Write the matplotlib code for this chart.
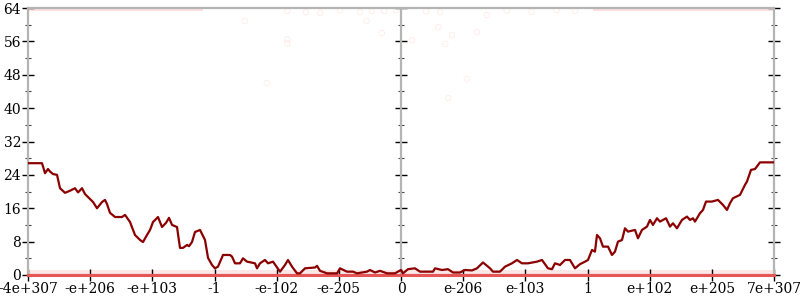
import matplotlib; matplotlib.use("Agg")
import matplotlib.pyplot as plt
from matplotlib.ticker import MultipleLocator

# x is in tick units: -6 .. 6, each unit one labelled tick
tick_pos = [-6, -5, -4, -3, -2, -1, 0, 1, 2, 3, 4, 5, 6]
tick_labels = ["-4e+307", "-e+206", "-e+103", "-1", "-e-102", "-e-205", "0",
               "e-206", "e-103", "1", "e+102", "e+205", "7e+307"]

line_x = [-6.00, -5.775, -5.726, -5.678, -5.646, -5.598, -5.533, -5.485, -5.405, -5.324,
          -5.244, -5.195, -5.131, -5.083, -5.035, -4.954, -4.890, -4.809, -4.761, -4.729,
          -4.681, -4.600, -4.488, -4.439, -4.359, -4.279, -4.198, -4.150, -4.086, -4.037,
          -3.989, -3.909, -3.844, -3.780, -3.732, -3.683, -3.603, -3.555, -3.507, -3.442,
          -3.410, -3.362, -3.314, -3.233, -3.153, -3.104, -3.040, -2.992, -2.944, -2.863,
          -2.751, -2.718, -2.670, -2.590, -2.541, -2.477, -2.348, -2.316, -2.268, -2.188,
          -2.139, -2.059, -1.946, -1.866, -1.818, -1.753, -1.673, -1.625, -1.544, -1.383,
          -1.351, -1.303, -1.190, -1.029, -0.981, -0.869, -0.772, -0.708, -0.547, -0.499,
          -0.418, -0.338, -0.225, -0.097, 0.0,
          0.032, 0.113, 0.225, 0.306, 0.515, 0.547, 0.660, 0.756, 0.836, 0.949,
          1.029, 1.142, 1.222, 1.319, 1.432, 1.480, 1.592, 1.673, 1.785, 1.866,
          1.946, 2.043, 2.188, 2.268, 2.364, 2.429, 2.477, 2.558, 2.638, 2.718,
          2.799, 2.879, 2.960, 3.008, 3.072, 3.120, 3.153, 3.201, 3.249, 3.330,
          3.394, 3.442, 3.490, 3.555, 3.603, 3.651, 3.764, 3.812, 3.876, 3.957,
          4.005, 4.053, 4.118, 4.166, 4.263, 4.327, 4.375, 4.439, 4.520, 4.600,
          4.649, 4.697, 4.729, 4.809, 4.858, 4.906, 5.002, 5.099, 5.179, 5.244,
          5.292, 5.340, 5.453, 5.533, 5.565, 5.630, 5.694, 5.775, 6.00]
line_y = [26.8, 26.8, 24.4, 25.4, 24.8, 24.2, 24.0, 20.8, 19.7, 20.2,
          20.8, 19.8, 20.8, 19.4, 18.7, 17.5, 16.0, 17.5, 18.0, 17.0,
          14.9, 13.9, 13.9, 14.4, 12.7, 9.6, 8.4, 7.9, 9.6, 10.8,
          12.7, 13.9, 11.5, 12.5, 13.7, 12.0, 11.5, 6.5, 6.5, 7.2,
          6.9, 7.9, 10.3, 10.8, 8.4, 4.1, 2.4, 1.6, 2.0, 4.8,
          4.8, 4.4, 2.8, 2.8, 4.0, 3.2, 2.8, 1.6, 2.8, 3.6,
          2.8, 3.2, 0.8, 2.4, 3.6, 2.0, 0.4, 0.4, 1.6, 1.8,
          2.2, 1.0, 0.4, 0.4, 1.6, 0.8, 0.8, 0.4, 0.8, 1.2,
          0.6, 1.0, 0.4, 0.4, 1.2,
          0.4, 1.4, 1.6, 0.8, 0.8, 1.6, 1.2, 1.4, 0.6, 0.6,
          1.2, 1.1, 1.6, 3.0, 1.6, 0.8, 0.8, 2.0, 2.8, 3.6,
          2.8, 2.8, 3.2, 3.6, 1.6, 1.4, 2.8, 2.4, 3.6, 3.6,
          1.6, 2.6, 3.2, 3.6, 6.0, 5.6, 9.6, 8.8, 6.8, 6.8,
          4.8, 5.6, 8.0, 8.4, 11.2, 10.4, 10.8, 8.8, 10.8, 11.6,
          13.2, 12.0, 13.6, 12.8, 13.6, 11.6, 12.4, 11.2, 13.2, 14.0,
          13.2, 13.6, 12.8, 14.8, 15.6, 17.6, 17.6, 18.0, 16.8, 15.6,
          17.2, 18.4, 19.2, 21.6, 22.4, 25.2, 25.4, 27.0, 27.0]

# dense sample bands (x start, x end) at y = 0 and y = 64
bottom_band = [(-6.0, 6.0)]
top_band = [(-6.0, -3.19), (3.09, 6.0)]
# sparse outlying samples
sparse_x = [-2.51, -1.83, -1.83, -2.16, -1.30, -0.55, -0.31, 0.18, 0.60, 0.82,
            0.71, 1.22, 1.06, 0.76, 0.63, 1.38, -1.83, -1.53, -0.98, -0.66,
            -0.47, -0.27, -0.08, 0.4, 1.7, 2.1, 2.5, 2.8]
sparse_y = [60.9, 56.5, 55.5, 46.0, 62.8, 60.9, 58.0, 56.3, 59.4, 57.5,
            55.4, 58.2, 47.0, 42.4, 63.0, 62.3, 63.3, 63.0, 63.5, 63.0,
            63.2, 63.3, 63.5, 63.2, 63.4, 63.1, 63.5, 63.3]

plt.rcParams["font.family"] = "DejaVu Serif"
fig = plt.figure(figsize=(8, 3), dpi=100)
ax = fig.add_axes([28 / 800, 25 / 300, 746 / 800, 267 / 300])
grey = "#b4b4b4"

for x0, x1 in bottom_band:
    ax.fill_between([x0, x1], 0, 1.3, color="#fbdcdc", alpha=0.7, lw=0, zorder=1)
    ax.plot([x0, x1], [0, 0], color="#e65656", lw=2.2, clip_on=False, zorder=4)
for x0, x1 in top_band:
    ax.fill_between([x0, x1], 63.2, 64, color="#fbd2d2", alpha=0.7, lw=0, zorder=1)
ax.scatter(sparse_x, sparse_y, s=16, facecolors="none", edgecolors="#ffd6d6",
           linewidths=0.6, alpha=0.5, zorder=2)

ax.plot(line_x, line_y, color="#8b0000", lw=1.6, zorder=5)

ax.set_xlim(-6, 6); ax.set_ylim(0, 64)
for s in ax.spines.values():
    s.set_color(grey); s.set_linewidth(1.6)
ax.axvline(0, color=grey, lw=1.6, zorder=3)

ax.set_xticks(tick_pos); ax.set_xticklabels(tick_labels)
ax.yaxis.set_major_locator(MultipleLocator(8))
ax.yaxis.set_minor_locator(MultipleLocator(4))
ax.tick_params(axis="x", direction="inout", length=8, width=1, color="black",
               labelsize=10, pad=1)
ax.tick_params(axis="y", which="major", direction="inout", length=8, width=1,
               color="black", labelsize=10, pad=1, right=True)
ax.tick_params(axis="y", which="minor", direction="inout", length=4, width=0.8,
               color="#444444", right=True)

mid = ax.secondary_yaxis(0.5)
mid.yaxis.set_major_locator(MultipleLocator(8))
mid.yaxis.set_minor_locator(MultipleLocator(4))
mid.tick_params(which="major", direction="inout", length=8, width=1, color="black",
                labelleft=False, labelright=False)
mid.tick_params(which="minor", direction="inout", length=4, width=0.8, color="#444444")
mid.spines["left"].set_visible(False)
mid.spines["right"].set_visible(False)

fig.savefig("out.png", dpi=100)
